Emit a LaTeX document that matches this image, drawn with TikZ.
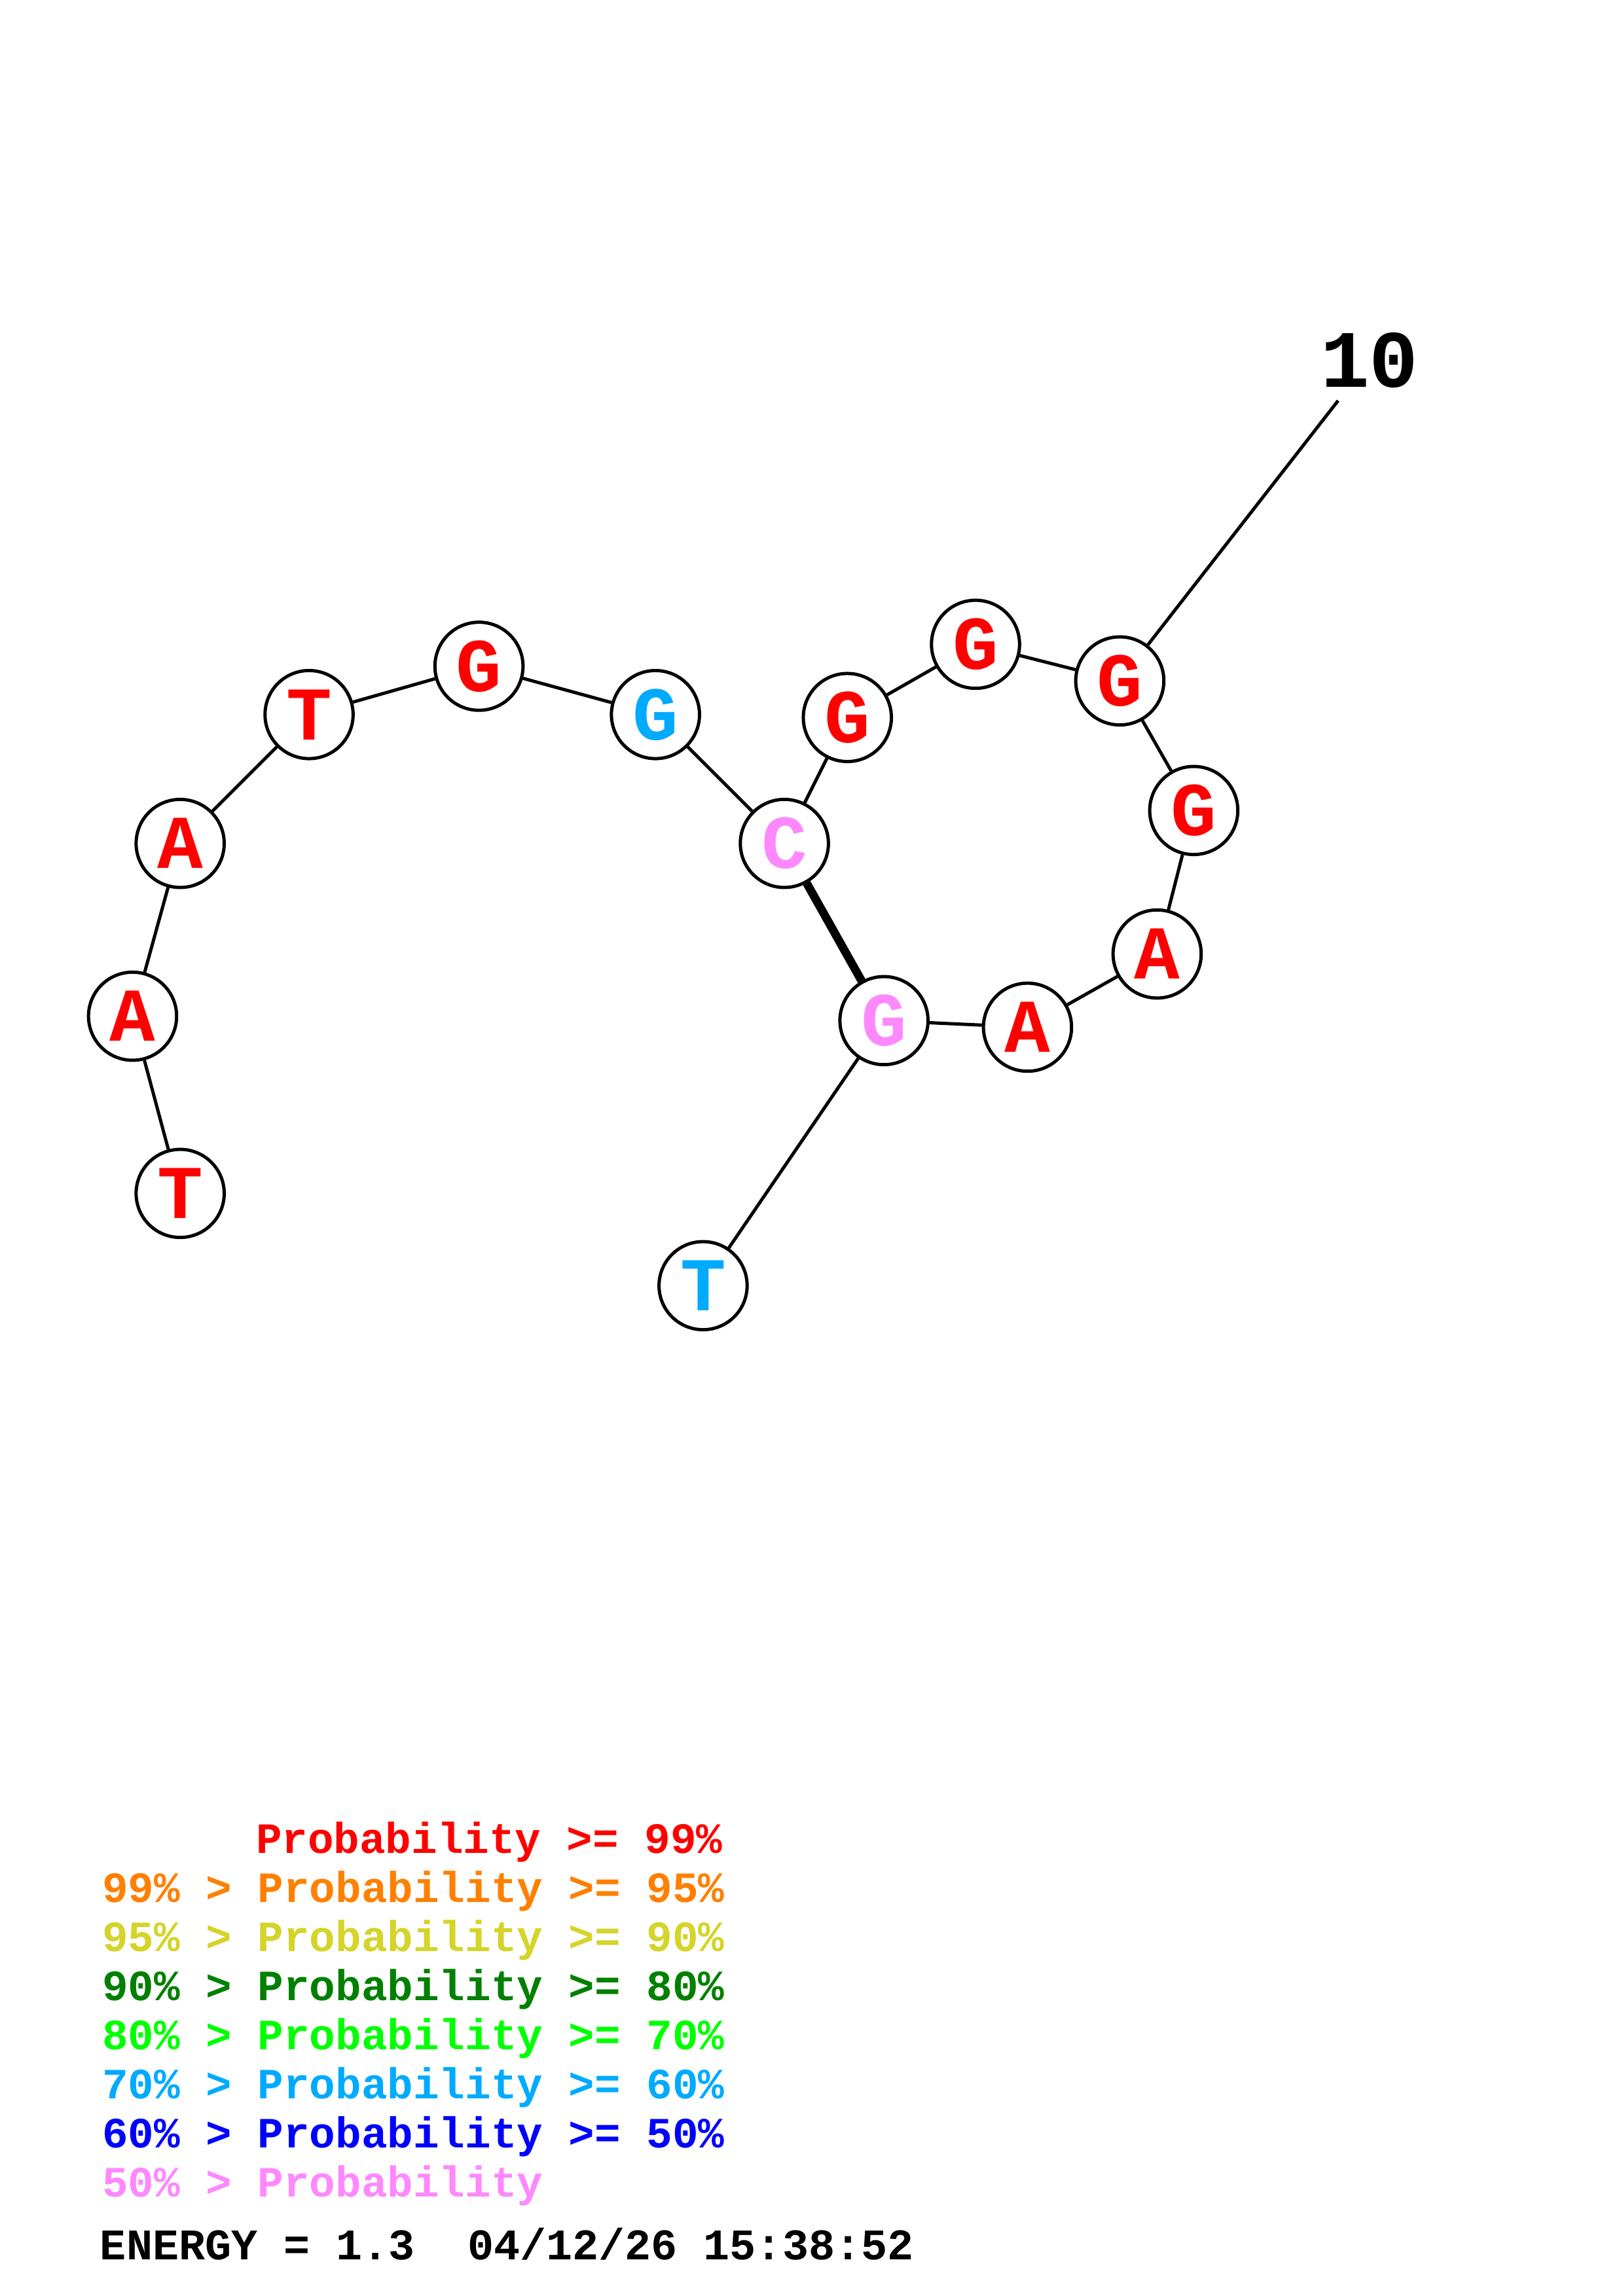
\documentclass[tikz,border=0pt]{standalone}
\usepackage{fontspec}
\setmonofont{Liberation Mono}
\usepackage{tikz}
\usetikzlibrary{shapes,positioning,arrows,fit,calc}

\definecolor{pr99}{RGB}{255,0,0}
\definecolor{pr95}{RGB}{255,128,0}
\definecolor{pr90}{RGB}{212,212,42}
\definecolor{pr80}{RGB}{0,128,0}
\definecolor{pr70}{RGB}{0,255,0}
\definecolor{pr60}{RGB}{0,170,255}
\definecolor{pr50}{RGB}{0,0,255}
\definecolor{prlow}{RGB}{255,136,255}

\begin{document}
\begin{tikzpicture}[x=0.018953cm,y=-0.018953cm,
        nuc/.style={circle,draw,fill=white,line width=1.2pt,minimum size=1.14cm,inner sep=0pt,
            font=\fontsize{28}{28}\selectfont\ttfamily\bfseries},
        bond/.style={line width=1.2pt},
        pair/.style={line width=3.1pt},
        leg/.style={anchor=base west,inner sep=0pt,font=\fontsize{15.9}{15.9}\selectfont\ttfamily\bfseries}]
        \useasboundingbox (0,0) rectangle (1108,1568);
        \node[nuc,text=pr99] (t1) at (123,815) {T};
        \node[nuc,text=pr99] (a2) at (90.5,694) {A};
        \node[nuc,text=pr99] (a3) at (123,576) {A};
        \node[nuc,text=pr99] (t4) at (211,488) {T};
        \node[nuc,text=pr99] (g5) at (327,455) {G};
        \node[nuc,text=pr60] (g6) at (447.5,488) {G};
        \node[nuc,text=prlow] (c7) at (535.5,576) {C};
        \node[nuc,text=pr99] (g8) at (578.5,490) {G};
        \node[nuc,text=pr99] (g9) at (666,440) {G};
        \node[nuc,text=pr99] (g10) at (764.5,465) {G};
        \node[nuc,text=pr99] (g11) at (815,553.5) {G};
        \node[nuc,text=pr99] (a12) at (790,651.5) {A};
        \node[nuc,text=pr99] (a13) at (701.5,701.5) {A};
        \node[nuc,text=prlow] (g14) at (603.5,697) {G};
        \node[nuc,text=pr60] (t15) at (480,878) {T};
        \node[inner sep=4.5pt,font=\fontsize{30}{30}\selectfont\ttfamily\bfseries] (ten) at (935,246) {10};
        \draw[bond] (t1) -- (a2);
        \draw[bond] (a2) -- (a3);
        \draw[bond] (a3) -- (t4);
        \draw[bond] (t4) -- (g5);
        \draw[bond] (g5) -- (g6);
        \draw[bond] (g6) -- (c7);
        \draw[bond] (c7) -- (g8);
        \draw[bond] (g8) -- (g9);
        \draw[bond] (g9) -- (g10);
        \draw[bond] (g10) -- (g11);
        \draw[bond] (g11) -- (a12);
        \draw[bond] (a12) -- (a13);
        \draw[bond] (a13) -- (g14);
        \draw[bond] (g14) -- (t15);
        \draw[pair] (c7) -- (g14);
        \draw[bond] (g10) -- (ten);
        \node[leg,text=pr99] (l99) at (174.4,1265.7) {Probability >= 99\%};
        \node[leg,text=pr95] (l95) at (69.5,1299.2) {99\% > Probability >= 95\%};
        \node[leg,text=pr90] (l90) at (69.5,1332.7) {95\% > Probability >= 90\%};
        \node[leg,text=pr80] (l80) at (69.5,1366.2) {90\% > Probability >= 80\%};
        \node[leg,text=pr70] (l70) at (69.5,1399.7) {80\% > Probability >= 70\%};
        \node[leg,text=pr60] (l60) at (69.5,1433.2) {70\% > Probability >= 60\%};
        \node[leg,text=pr50] (l50) at (69.5,1466.7) {60\% > Probability >= 50\%};
        \node[leg,text=prlow] (llow) at (69.5,1500.2) {50\% > Probability};
        \node[leg,font=\fontsize{16.1}{16.1}\selectfont\ttfamily\bfseries] (energy) at (68,1543) {ENERGY = 1.3\ \ 04/12/26 15:38:52};
\end{tikzpicture}
\end{document}
